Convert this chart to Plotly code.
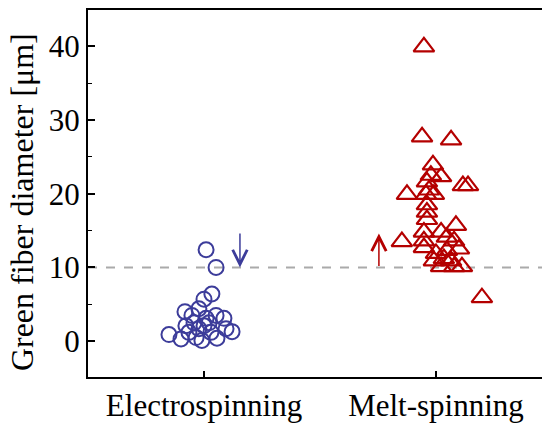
import plotly.graph_objects as go

categories = ["Electrospinning", "Melt-spinning"]
cat_pos = [1, 2]

# Electrospinning: jitter offset (category units) and diameter (µm)
es_jitter = [0.009, 0.052, 0.034, 0.0, -0.082, -0.022, 0.052, 0.086, 0.095, 0.121,
             0.0, 0.009, -0.043, -0.151, -0.099, -0.065, -0.034, -0.009, 0.056, 0.030,
             -0.022, -0.078, 0.022, -0.052]
es_diam = [12.4, 10.0, 6.4, 5.7, 4.0, 4.4, 3.5, 3.1, 1.7, 1.3,
           2.1, 3.1, 2.5, 0.9, 0.3, 1.2, 0.5, 0.1, 0.4, 1.2,
           1.7, 2.1, 2.5, 3.5]

# Melt-spinning
ms_jitter = [-0.052, -0.060, 0.065, -0.013, -0.022, 0.022, -0.039, 0.116, 0.138, -0.125,
             -0.043, -0.009, -0.030, -0.039, -0.039, -0.039, 0.086, -0.052, 0.022, -0.147,
             -0.052, -0.052, 0.047, 0.078, 0.099, 0.0, 0.047, 0.022, 0.078, 0.112,
             0.198, 0.034, 0.065, -0.009]
ms_diam = [39.9, 27.7, 27.3, 23.9, 22.5, 22.3, 21.6, 21.1, 21.1, 19.9,
           19.9, 19.9, 20.5, 18.5, 17.5, 16.5, 15.7, 14.8, 14.8, 13.5,
           13.6, 12.7, 14.1, 13.6, 12.5, 11.9, 12.3, 10.1, 10.1, 10.1,
           5.9, 11.2, 10.9, 10.9]

threshold = 10
es_arrow = {"x": 1.155, "from": 14.8, "to": 10.0}
ms_arrow = {"x": 1.754, "from": 10.0, "to": 14.6}

y_ticks = [0, 10, 20, 30, 40]

blue = "#3c3c9a"
red = "#b40000"
FONT = "Liberation Serif, Times New Roman, serif"

fig = go.Figure()
fig.add_trace(go.Scatter(
    x=[cat_pos[0] + j for j in es_jitter], y=es_diam, mode="markers",
    marker=dict(symbol="circle-open", size=15, color=blue, line=dict(width=2, color=blue)),
    showlegend=False))
fig.add_trace(go.Scatter(
    x=[cat_pos[1] + j for j in ms_jitter], y=ms_diam, mode="markers",
    marker=dict(symbol="triangle-up-open", size=18, color=red, line=dict(width=2.2, color=red)),
    showlegend=False))

fig.add_shape(type="line", xref="paper", x0=0, x1=1, yref="y", y0=threshold, y1=threshold,
              line=dict(color="#aaaaaa", width=2, dash="dash"), layer="below")

for arr, col in [(es_arrow, blue), (ms_arrow, red)]:
    fig.add_annotation(x=arr["x"], y=arr["to"], ax=arr["x"], ay=arr["from"],
                       xref="x", yref="y", axref="x", ayref="y", text="",
                       showarrow=True, arrowhead=5, arrowsize=1.9, arrowwidth=1.5,
                       arrowcolor=col)

fig.add_annotation(text="Green fiber diameter [μm]", xref="paper", yref="paper",
                   x=-0.145, y=0.477, textangle=-90, showarrow=False,
                   font=dict(family=FONT, size=32, color="black"),
                   xanchor="center", yanchor="middle")

fig.update_xaxes(range=[0.5, 2.457], tickvals=cat_pos, ticktext=categories,
                 ticks="inside", ticklen=6, tickwidth=1.5, tickcolor="black",
                 showline=True, linecolor="black", linewidth=2, mirror=True,
                 showgrid=False, zeroline=False,
                 tickfont=dict(family=FONT, size=31, color="black"))
fig.update_yaxes(range=[-4.85, 44.9], tickvals=y_ticks,
                 ticks="inside", ticklen=7, tickwidth=1.5, tickcolor="black",
                 minor=dict(dtick=5, tick0=0, ticks="inside", ticklen=4, tickcolor="black", tickwidth=1.2),
                 showline=True, linecolor="black", linewidth=2, mirror=False,
                 showgrid=False, zeroline=False,
                 tickfont=dict(family=FONT, size=31, color="black"))

fig.update_layout(width=542, height=423, margin=dict(l=88, r=0, t=10, b=40),
                  plot_bgcolor="white", paper_bgcolor="white")

fig.write_html("out.html")
